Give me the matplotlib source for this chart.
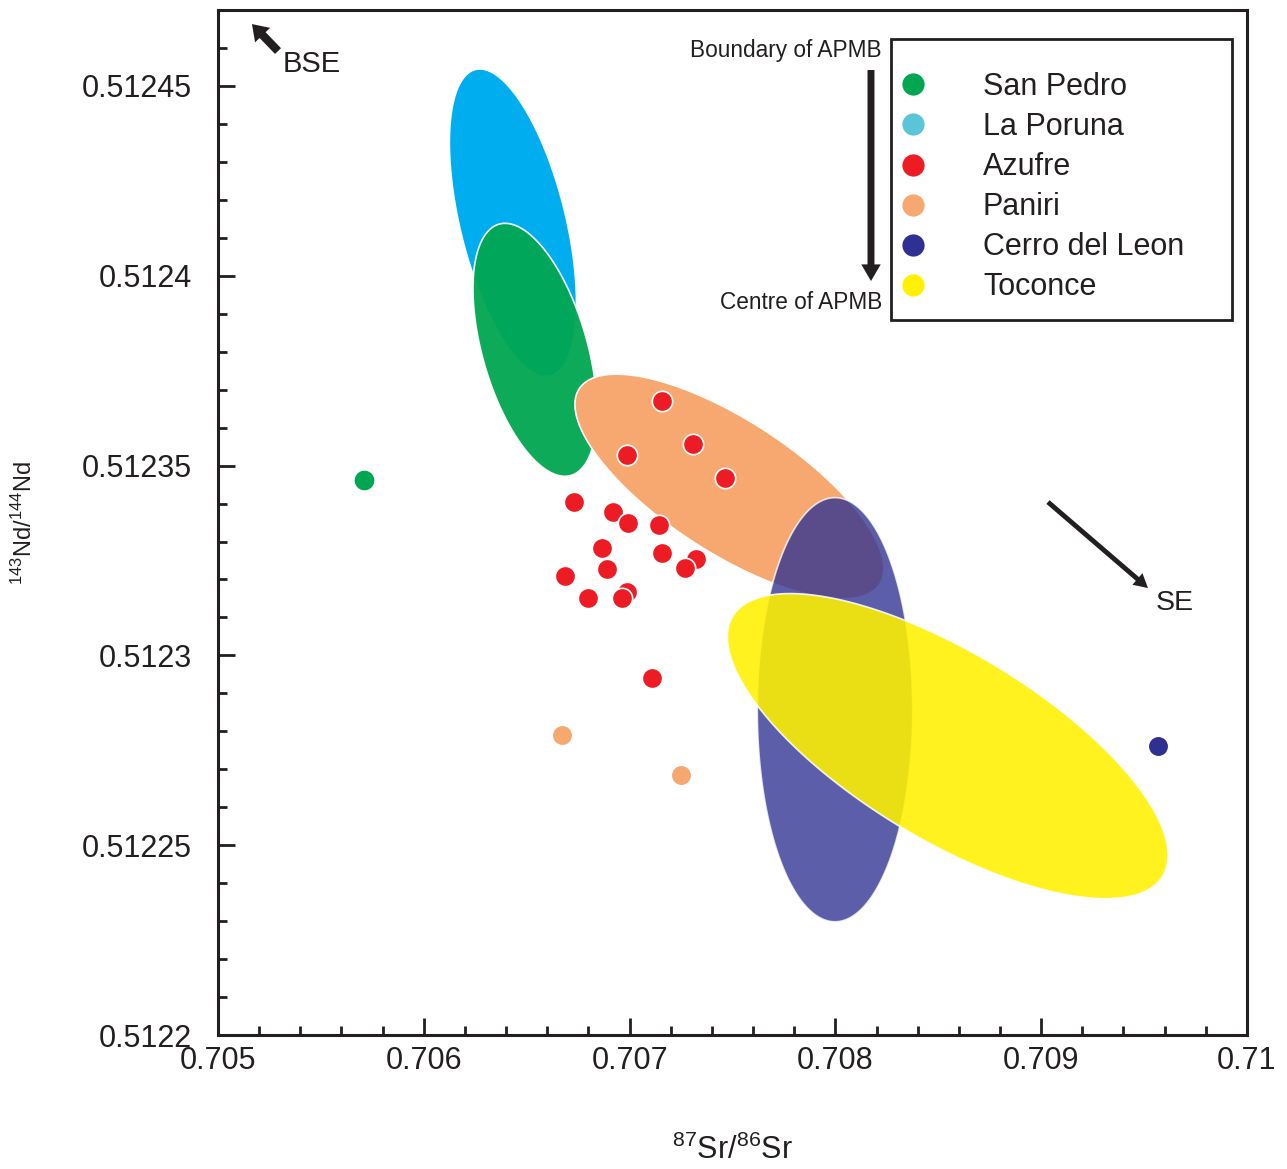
import numpy as np
import matplotlib
matplotlib.use("Agg")
import matplotlib.pyplot as plt
from matplotlib.patches import Polygon, Rectangle
from matplotlib.lines import Line2D
from matplotlib.ticker import MultipleLocator

plt.rcParams['font.family'] = ['Liberation Sans', 'DejaVu Sans']
plt.rcParams['mathtext.fontset'] = 'custom'
plt.rcParams['mathtext.rm'] = 'Liberation Sans'
plt.rcParams['mathtext.it'] = 'Liberation Sans'

# ---- data ----
# field ellipses: centre + half-axis vectors, all in data units
ell_names = ['La Poruna', 'San Pedro', 'Paniri', 'Cerro del Leon', 'Toconce']
ell_sr = [0.706433, 0.706540, 0.707485, 0.707998, 0.708546]
ell_nd = [0.5124140, 0.5123805, 0.5123445, 0.5122857, 0.5122761]
ell_major = [(-1.817e-4, 4.035e-5), (-1.744e-4, 3.310e-5), (7.298e-4, -2.574e-5),
             (0.0, 5.586e-5), (1.0447e-3, -3.423e-5)]
ell_minor = [(2.497e-4, 3.29e-6), (2.454e-4, 3.79e-6), (-1.759e-4, -1.459e-5),
             (3.775e-4, 0.0), (-2.357e-4, -2.106e-5)]

# single samples
azufre_sr = [0.707156, 0.707310, 0.706986, 0.707464, 0.706730, 0.706918, 0.706994,
             0.707144, 0.706864, 0.707156, 0.707321, 0.707268, 0.706685, 0.706889,
             0.706798, 0.706986, 0.706963, 0.707109]
azufre_nd = [0.5123671, 0.5123558, 0.5123529, 0.5123468, 0.5123404, 0.5123378, 0.5123349,
             0.5123343, 0.5123282, 0.5123271, 0.5123253, 0.5123231, 0.5123210, 0.5123227,
             0.5123150, 0.5123168, 0.5123150, 0.5122941]
sanpedro_sr = [0.705709]
sanpedro_nd = [0.5123462]
paniri_sr = [0.706672, 0.707250]
paniri_nd = [0.5122791, 0.5122684]
cerro_sr = [0.709568]
cerro_nd = [0.5122762]

legend_labels = ['San Pedro', 'La Poruna', 'Azufre', 'Paniri', 'Cerro del Leon', 'Toconce']

xticks = [0.705, 0.706, 0.707, 0.708, 0.709, 0.710]
xticklabels = ['0.705', '0.706', '0.707', '0.708', '0.709', '0.71']
yticks = [0.5122, 0.51225, 0.5123, 0.51235, 0.5124, 0.51245]
yticklabels = ['0.5122', '0.51225', '0.5123', '0.51235', '0.5124', '0.51245']

# ---- styles ----
ink = '#231F20'
col = {'San Pedro': '#00A651', 'La Poruna': '#00AEEF', 'Azufre': '#ED1C24',
       'Paniri': '#F7A870', 'Cerro del Leon': '#2E3192', 'Toconce': '#FFF100'}
leg_col = dict(col)
leg_col['La Poruna'] = '#5BC5D8'
ell_alpha = {'La Poruna': 1.0, 'San Pedro': 0.95, 'Paniri': 1.0,
             'Cerro del Leon': 0.78, 'Toconce': 0.88}

fig = plt.figure(figsize=(12.87, 11.69), dpi=100)
ax = fig.add_axes([0.1694, 0.1146, 0.7995, 0.8768])

t = np.linspace(0, 2 * np.pi, 300)
for name, cx, cy, mj, mn in zip(ell_names, ell_sr, ell_nd, ell_major, ell_minor):
    xs = cx + mj[0] * np.cos(t) + mn[0] * np.sin(t)
    ys = cy + mj[1] * np.cos(t) + mn[1] * np.sin(t)
    ax.add_patch(Polygon(np.column_stack([xs, ys]), closed=True,
                         facecolor=col[name], alpha=ell_alpha[name],
                         edgecolor='white', linewidth=1.2, zorder=2))

ax.scatter(sanpedro_sr, sanpedro_nd, s=200, color=col['San Pedro'], linewidths=0, zorder=4)
ax.scatter(cerro_sr, cerro_nd, s=185, color=col['Cerro del Leon'], linewidths=0, zorder=4)
ax.scatter(paniri_sr, paniri_nd, s=185, color=col['Paniri'], linewidths=0, zorder=4)
for xv, yv in zip(azufre_sr, azufre_nd):
    ax.scatter(xv, yv, s=215, color=col['Azufre'], edgecolors='white',
               linewidths=1.2, zorder=5)

ax.set_xlim(0.705, 0.710)
ax.set_ylim(0.5122, 0.51247)
ax.set_xticks(xticks)
ax.set_xticklabels(xticklabels)
ax.set_yticks(yticks)
ax.set_yticklabels(yticklabels)
ax.xaxis.set_minor_locator(MultipleLocator(0.0002))
ax.yaxis.set_minor_locator(MultipleLocator(0.00001))
ax.tick_params(which='both', direction='in', width=2, color=ink, labelcolor=ink,
               labelsize=22, top=False, right=False)
ax.tick_params(which='major', length=12)
ax.tick_params(which='minor', length=6.5)
ax.tick_params(axis='x', pad=8)
ax.tick_params(axis='y', pad=19)
for sp in ax.spines.values():
    sp.set_linewidth(2.2)
    sp.set_color(ink)

ax.set_xlabel(r'$^{87}$Sr/$^{86}$Sr', fontsize=22, color=ink)
ax.xaxis.set_label_coords(0.5, -0.097)
ax.set_ylabel(r'$^{143}$Nd/$^{144}$Nd', fontsize=17, color=ink)
ax.yaxis.set_label_coords(-0.176, 0.50)

# arrows and notes
ax.annotate('', xy=(0.0330, 0.9863), xytext=(0.0583, 0.9600),
            xycoords='axes fraction', textcoords='axes fraction',
            arrowprops=dict(width=6, headwidth=15, headlength=11, shrink=0,
                            color=ink, lw=0))
ax.text(0.0632, 0.9473, 'BSE', transform=ax.transAxes, fontsize=21, color=ink,
        ha='left', va='center')

ax.annotate('', xy=(0.9038, 0.4361), xytext=(0.8066, 0.5200),
            xycoords='axes fraction', textcoords='axes fraction',
            arrowprops=dict(width=3.5, headwidth=11, headlength=10, shrink=0,
                            color=ink, lw=0))
ax.text(0.9116, 0.4215, 'SE', transform=ax.transAxes, fontsize=20.5, color=ink,
        ha='left', va='center')

ax.annotate('', xy=(0.6346, 0.7356), xytext=(0.6346, 0.9415),
            xycoords='axes fraction', textcoords='axes fraction',
            arrowprops=dict(width=5, headwidth=14, headlength=12, shrink=0,
                            color=ink, lw=0))
ax.text(0.6452, 0.9610, 'Boundary of APMB', transform=ax.transAxes, fontsize=16.3,
        color=ink, ha='right', va='center')
ax.text(0.6452, 0.7151, 'Centre of APMB', transform=ax.transAxes, fontsize=16.3,
        color=ink, ha='right', va='center')

# legend: entries without frame, box drawn separately
handles = [Line2D([], [], linestyle='none', marker='o', markersize=16,
                  markerfacecolor=leg_col[n], markeredgewidth=0) for n in legend_labels]
leg = ax.legend(handles, legend_labels, loc='upper left',
                bbox_to_anchor=(0.668, 0.9395), fontsize=22, frameon=False,
                borderpad=0, handlelength=0.5, handletextpad=2.04,
                labelspacing=0.33, borderaxespad=0)
for txt in leg.get_texts():
    txt.set_color(ink)
ax.add_patch(Rectangle((0.654, 0.6976), 0.3314, 0.2741, transform=ax.transAxes,
                       fill=False, edgecolor=ink, linewidth=2, zorder=6))

fig.savefig('out.png', dpi=100)
